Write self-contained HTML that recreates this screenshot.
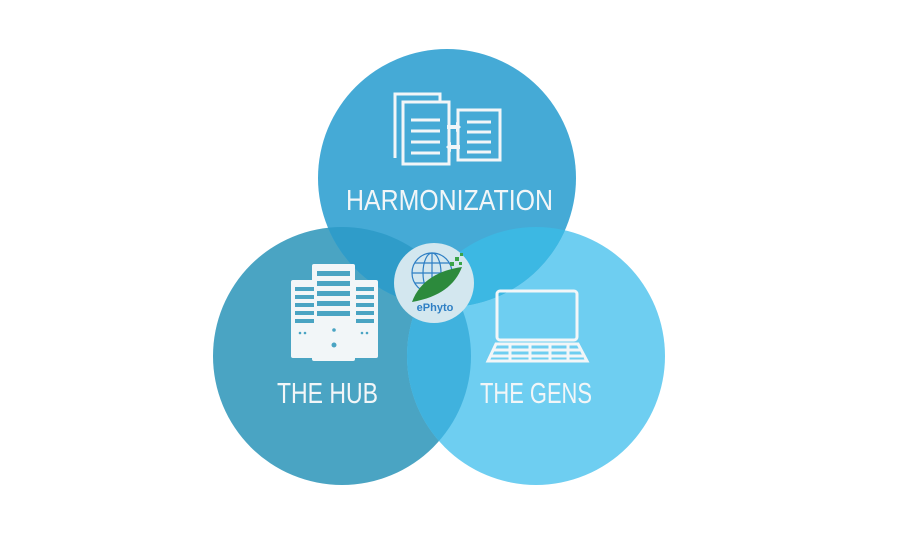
<!DOCTYPE html>
<html><head><style>html,body{margin:0;padding:0;background:#fff}svg{display:block}</style></head><body>
<svg width="921" height="539" viewBox="0 0 921 539" xmlns="http://www.w3.org/2000/svg">
<defs>
<clipPath id="cH"><circle cx="447" cy="178" r="129"/></clipPath>
<clipPath id="cB"><circle cx="342" cy="356" r="129"/></clipPath>
<clipPath id="cG"><circle cx="536" cy="356" r="129"/></clipPath>
</defs>
<circle cx="342" cy="356" r="129" fill="#4aa4c3"/>
<circle cx="536" cy="356" r="129" fill="#6ecef1"/>
<circle cx="447" cy="178" r="129" fill="#45aad6"/>
<g clip-path="url(#cB)"><circle cx="536" cy="356" r="129" fill="#40b2de"/><circle cx="447" cy="178" r="129" fill="#2f9cc9"/></g>
<g clip-path="url(#cG)"><circle cx="447" cy="178" r="129" fill="#3cb8e3"/></g>
<g clip-path="url(#cB)"><g clip-path="url(#cG)"><circle cx="447" cy="178" r="129" fill="#35a9d6"/></g></g>
<!-- documents icon -->
<g fill="none" stroke="#f2f6f8" stroke-width="3">
<path d="M395 158 V94 H440 V101"/>
<rect x="403" y="102" width="46" height="62"/>
<rect x="458" y="110" width="42" height="50"/>
<path d="M411 120h29M411 131h29M411 142h29M411 153h29M467 122h24M467 132h24M467 142h24M467 152h24"/>
</g>
<path d="M447 125h9v-3l5 5-5 5v-3h-9z M460 145h-9v-3l-5 5 5 5v-3h9z" fill="#f2f6f8"/>
<!-- server icon -->
<g fill="#f2f6f8">
<rect x="291" y="280" width="27" height="78" rx="2"/>
<rect x="352" y="280" width="26" height="78" rx="2"/>
<rect x="312" y="264" width="43" height="97" rx="2"/>
</g>
<g fill="#4aa4c3">
<rect x="295" y="287" width="19" height="4"/><rect x="295" y="295" width="19" height="4"/><rect x="295" y="303" width="19" height="4"/><rect x="295" y="311" width="19" height="4"/><rect x="295" y="319" width="19" height="4"/>
<rect x="356" y="287" width="18" height="4"/><rect x="356" y="295" width="18" height="4"/><rect x="356" y="303" width="18" height="4"/><rect x="356" y="311" width="18" height="4"/><rect x="356" y="319" width="18" height="4"/>
<rect x="317" y="271" width="33" height="5"/><rect x="317" y="281" width="33" height="5"/><rect x="317" y="291" width="33" height="5"/><rect x="317" y="301" width="33" height="5"/><rect x="317" y="311" width="33" height="5"/>
<circle cx="334" cy="330" r="1.8"/><circle cx="334" cy="345" r="2.5"/><circle cx="300" cy="333" r="1.3"/><circle cx="305" cy="333" r="1.3"/><circle cx="362" cy="333" r="1.3"/><circle cx="367" cy="333" r="1.3"/>
</g>
<!-- laptop icon -->
<g fill="none" stroke="#f2f6f8" stroke-width="3">
<rect x="497" y="291" width="80" height="49" rx="3"/>
<path d="M488 361 L496 344 H578 L587 361 Z"/>
<path d="M494 350h86M491 356h92M510 344v17M530 344v17M550 344v17M568 344v17"/>
</g>
<!-- logo -->
<circle cx="434" cy="283" r="40" fill="#d3e7ef"/>
<g fill="none" stroke="#2e7fc4" stroke-width="1.2">
<circle cx="432" cy="273" r="20"/>
<ellipse cx="432" cy="273" rx="9" ry="20"/>
<path d="M412 273h40M415 263h34M415 283h34M432 253v40"/>
</g>
<path d="M412 302 C420 280,440 270,462 267 C455 285,440 297,412 302Z" fill="#2c8a3c"/>
<g fill="#3aa447"><rect x="450" y="262" width="4" height="4"/><rect x="455" y="257" width="4" height="4"/><rect x="459" y="262" width="3" height="3"/><rect x="460" y="253" width="3" height="3"/></g>
<text x="435" y="311" font-family="Liberation Sans, sans-serif" font-size="11" font-weight="bold" fill="#2e7fc4" text-anchor="middle">ePhyto</text>
<!-- labels -->
<g font-family="Liberation Sans, sans-serif" font-size="29" fill="#f2f6f8">
<text x="346" y="210" textLength="207" lengthAdjust="spacingAndGlyphs">HARMONIZATION</text>
<text x="277" y="403" textLength="101" lengthAdjust="spacingAndGlyphs">THE HUB</text>
<text x="480" y="403" textLength="112" lengthAdjust="spacingAndGlyphs">THE GENS</text>
</g>
</svg>
</body></html>
